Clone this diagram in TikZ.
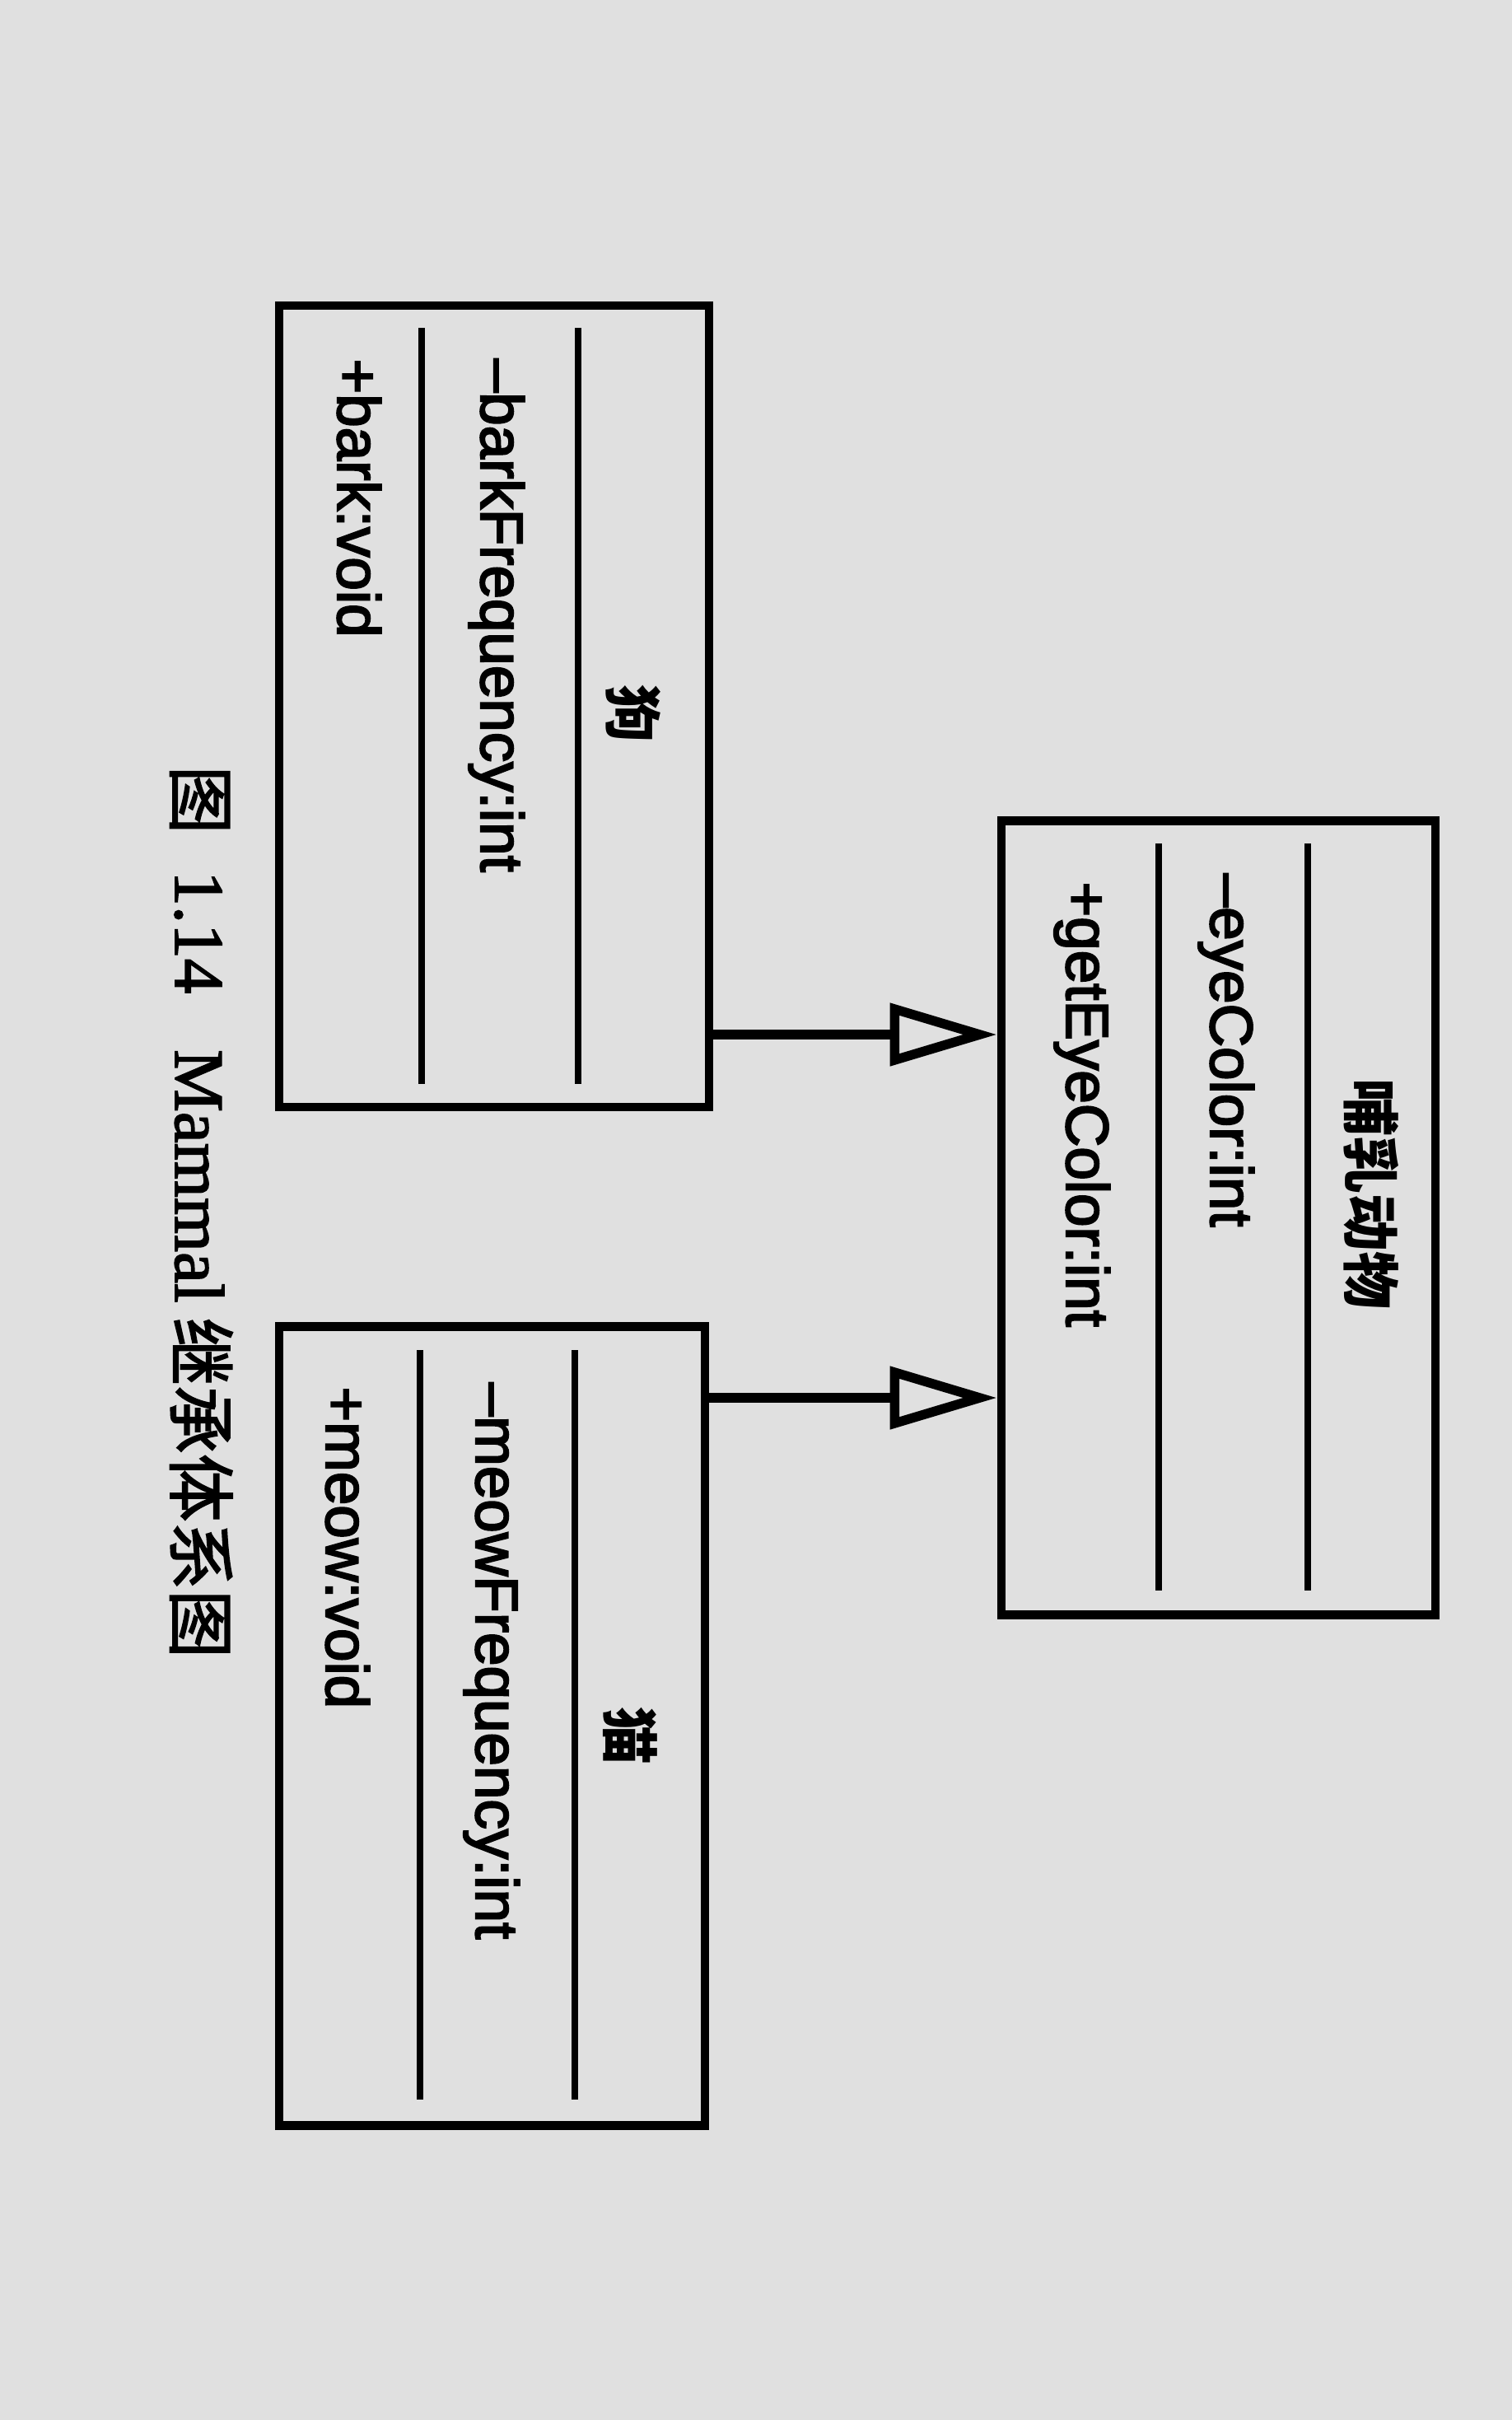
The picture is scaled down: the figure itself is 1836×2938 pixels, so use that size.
\documentclass[tikz,border=0pt]{standalone}
\usepackage{fontspec}
\setmainfont{Liberation Sans}
\newfontfamily\boxfont{Liberation Sans}[FakeBold=3]
\newfontfamily\capfont{Liberation Serif}[FakeBold=2]
\newfontfamily\cjk{Noto Sans CJK SC}
\newfontfamily\cjkcap{Noto Sans CJK SC}[FakeBold=2]
\usetikzlibrary{arrows.meta}
\definecolor{paper}{RGB}{224,224,224}
\tikzset{
	classbox/.style={draw, line width=1.05mm, minimum width=5.22cm, minimum height=9.72cm, inner sep=0pt},
	member/.style={rotate=-90, anchor=base west, inner sep=0pt, font=\boxfont\fontsize{20.7}{24}\selectfont},
	classname/.style={rotate=-90, inner sep=0pt, font=\cjk\bfseries\fontsize{19.9}{22}\selectfont},
	inherit/.style={line width=1.15mm, -{Triangle[open, length=1.3cm, width=0.74cm]}}
}

\begin{document}
\begin{tikzpicture}[x=0.01cm, y=-0.01cm]
			%%%%% START %%%%%
			
			\fill[paper] (0, 0) rectangle (1836, 2938);
			\useasboundingbox (0, 0) rectangle (1836, 2938);
			
			%%%%% MAMMAL %%%%%
			\node[classbox, minimum width=5.27cm, minimum height=9.63cm] (mammal) at (1479.5, 1478.5) {};
			\draw[line width=0.75mm] (1407, 1024) -- (1407, 1931);
			\draw[line width=0.75mm] (1588, 1024) -- (1588, 1931);
			\node[classname] (mammalname) at (1665, 1449) {哺乳动物};
			\node[member] (mammalattr) at (1470, 1060) {–eyeColor:int};
			\node[member] (mammalop) at (1295, 1070) {+getEyeColor:int};
			
			%%%%% DOG %%%%%
			\node[classbox] (dog) at (600, 857.5) {};
			\draw[line width=0.75mm] (512, 398) -- (512, 1316);
			\draw[line width=0.75mm] (702, 398) -- (702, 1316);
			\node[classname] (dogname) at (769, 866) {狗};
			\node[member] (dogattr) at (584, 435) {–barkFrequency:int};
			\node[member] (dogop) at (410, 435) {+bark:void};
			
			%%%%% CAT %%%%%
			\node[classbox, minimum width=5.17cm, minimum height=9.69cm] (cat) at (597.5, 2095.5) {};
			\draw[line width=0.75mm] (510, 1639) -- (510, 2549);
			\draw[line width=0.75mm] (698, 1639) -- (698, 2549);
			\node[classname] (catname) at (765, 2107) {猫};
			\node[member] (catattr) at (578, 1678) {–meowFrequency:int};
			\node[member] (catop) at (396, 1683) {+meow:void};
			
			%%%%% INHERITANCE %%%%%
			\draw[inherit] (dog.east |- 0, 1256) -- (mammal.west |- 0, 1256);
			\draw[inherit] (cat.east |- 0, 1697) -- (mammal.west |- 0, 1697);
			
			%%%%% CAPTION %%%%%
			\node[rotate=-90, anchor=base west, inner sep=0pt] (caption) at (213, 929) {\cjkcap\fontsize{23.5}{26}\selectfont 图\hspace{0.45cm}\capfont\fontsize{24.2}{28}\selectfont 1.14\hspace{0.68cm}Mammal\hspace{0.18cm}\cjkcap\fontsize{23.5}{26}\selectfont 继承体系图};
			
			%%%%% END %%%%%
\end{tikzpicture}
\end{document}
